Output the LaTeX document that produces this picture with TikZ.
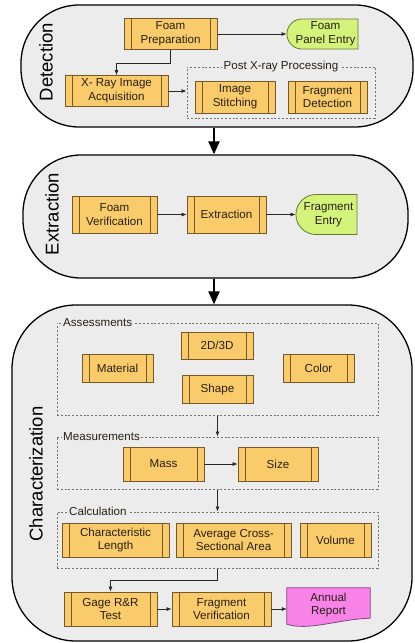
\documentclass[tikz,border=0pt]{standalone}
\usepackage{fontspec}
\setmainfont{Liberation Sans}
\usepackage{tikz}
\usetikzlibrary{arrows.meta}
\usetikzlibrary{shapes.misc}
\usetikzlibrary{positioning}

\definecolor{panelfill}{RGB}{236,236,236}
\definecolor{boxfill}{RGB}{250,203,106}
\definecolor{boxline}{RGB}{118,88,40}
\definecolor{boxtext}{RGB}{40,32,22}
\definecolor{entryfill}{RGB}{212,243,122}
\definecolor{entryline}{RGB}{104,120,52}
\definecolor{docfill}{RGB}{248,130,232}
\definecolor{docline}{RGB}{128,72,118}
\definecolor{groupline}{RGB}{115,115,115}
\definecolor{flowline}{RGB}{40,40,40}

\newcommand{\boxfontsize}{\fontsize{11.6}{13.8}\selectfont}
\newcommand{\panelfontsize}{\fontsize{18.5}{20}\selectfont}
\newcommand{\processnode}[1][]{\node[process,#1]}
\newcommand{\entrynode}[1][]{\node[entry,#1]}
\newcommand{\groupnode}[1][]{\node[group,#1]}

\tikzstyle{panel}=[
    draw,
    rectangle,
    fill=panelfill,
    line width=1.3pt,
    inner sep=0pt
]
\tikzstyle{paneltitle}=[
    rotate=90,
    inner sep=0pt,
    font=\panelfontsize
]
\tikzstyle{group}=[
    draw=groupline,
    rectangle,
    dash pattern=on 2pt off 1.8pt,
    line width=1pt,
    inner sep=0pt
]
\tikzstyle{grouplabel}=[
    fill=panelfill,
    inner sep=1.5pt,
    text=boxtext,
    font=\boxfontsize
]
\tikzstyle{process}=[
    draw=boxline,
    fill=boxfill,
    rectangle,
    line width=0.8pt,
    inner sep=1pt,
    align=center,
    text=boxtext,
    font=\boxfontsize,
    path picture={
        \draw[boxline,line width=0.8pt]
            ([xshift=7pt]path picture bounding box.north west) --
            ([xshift=7pt]path picture bounding box.south west)
            ([xshift=-7pt]path picture bounding box.north east) --
            ([xshift=-7pt]path picture bounding box.south east);
    }
]
\tikzstyle{entry}=[
    rounded rectangle,
    rounded rectangle right arc=none,
    draw=entryline,
    fill=entryfill,
    line width=0.8pt,
    inner sep=1pt,
    align=center,
    text=boxtext,
    font=\boxfontsize
]
\tikzstyle{doclabel}=[
    inner sep=1pt,
    align=center,
    text=boxtext,
    font=\boxfontsize
]
\tikzstyle{flow}=[
    -{Latex[length=5pt,width=4pt]},
    line width=0.7pt,
    draw=flowline
]
\tikzstyle{stage}=[
    -{Triangle[length=13pt,width=11pt]},
    line width=2.2pt
]

\begin{document}
\begin{tikzpicture}[x=1pt,y=1pt]

    \useasboundingbox (0,0) rectangle (415,-643);

    % panels
    \node[panel,rounded corners=58pt,minimum width=392pt,minimum height=122pt] (detect) at (217,-66) {};
    \node[panel,rounded corners=58pt,minimum width=385pt,minimum height=123pt] (extract) at (215.5,-216.5) {};
    \node[panel,rounded corners=64pt,minimum width=400pt,minimum height=336pt] (charact) at (212,-473) {};

    \node[paneltitle] (detecttitle) at (46,-62) {Detection};
    \node[paneltitle] (extracttitle) at (52,-214) {Extraction};
    \node[paneltitle] (characttitle) at (36,-474) {Characterization};

    % detection
    \processnode[minimum width=93pt,minimum height=31pt] (fprep) at (170.5,-34) {Foam\\Preparation};
    \entrynode[minimum width=73pt,minimum height=30pt] (fpanel) at (325.5,-34) {Foam\\Panel Entry};
    \processnode[minimum width=103pt,minimum height=31pt] (xray) at (116.5,-91) {X- Ray Image\\Acquisition};
    \groupnode[minimum width=188pt,minimum height=51pt] (postxray) at (281,-92.5) {};
    \node[grouplabel] (postxraylabel) at (postxray.north) {Post X-ray Processing};
    \processnode[minimum width=80pt,minimum height=32pt] (stitch) at (235,-97) {Image\\Stitching};
    \processnode[minimum width=79pt,minimum height=32pt] (fdetect) at (327.5,-97) {Fragment\\Detection};

    % extraction
    \processnode[minimum width=85pt,minimum height=37pt] (fverify) at (114.5,-214.5) {Foam\\Verification};
    \processnode[minimum width=79pt,minimum height=37pt] (extraction) at (226.5,-214.5) {Extraction};
    \entrynode[minimum width=63pt,minimum height=40pt] (fentry) at (328.5,-214.5) {Fragment\\Entry};

    % characterization
    \groupnode[minimum width=321pt,minimum height=92pt] (assess) at (217.5,-369) {};
    \node[grouplabel,anchor=west] (assesslabel) at ([xshift=5pt]assess.north west) {Assessments};
    \processnode[minimum width=71pt,minimum height=28pt] (material) at (117.5,-368) {Material};
    \processnode[minimum width=72pt,minimum height=27pt] (dim) at (217,-345.5) {2D/3D};
    \processnode[minimum width=71pt,minimum height=28pt] (shape) at (217.5,-389) {Shape};
    \processnode[minimum width=71pt,minimum height=28pt] (color) at (318.5,-368) {Color};

    \groupnode[minimum width=321pt,minimum height=52pt] (meas) at (217.5,-463) {};
    \node[grouplabel,anchor=west] (measlabel) at ([xshift=5pt]meas.north west) {Measurements};
    \processnode[minimum width=81pt,minimum height=34pt] (mass) at (163.5,-464) {Mass};
    \processnode[minimum width=80pt,minimum height=34pt] (size) at (278,-464) {Size};

    \groupnode[minimum width=321pt,minimum height=56pt] (calc) at (217.5,-540) {};
    \node[grouplabel,anchor=west] (calclabel) at ([xshift=11pt]calc.north west) {Calculation};
    \processnode[minimum width=107pt,minimum height=34pt] (charlen) at (115.5,-540) {Characteristic\\Length};
    \processnode[minimum width=115pt,minimum height=34pt] (avgarea) at (233.5,-540) {Average Cross-\\Sectional Area};
    \processnode[minimum width=71pt,minimum height=34pt] (volume) at (335.5,-540) {Volume};

    \processnode[minimum width=93pt,minimum height=34pt] (gage) at (110.5,-609) {Gage R\&R\\Test};
    \processnode[minimum width=99pt,minimum height=34pt] (fragver) at (221.5,-609) {Fragment\\Verification};
    \node[minimum width=83pt,minimum height=34pt,inner sep=0pt] (report) at (328.5,-605) {};
    \filldraw[fill=docfill,draw=docline,line width=0.8pt]
        (report.north west) -- (report.north east) -- ([yshift=4pt]report.south east)
        .. controls +(-32pt,-1pt) and +(22pt,-7pt) .. ([yshift=-2pt]report.south west) -- cycle;
    \node[doclabel] (reportlabel) at (report) {Annual\\Report};

    % edges
    \draw[flow] (fprep) -- (fpanel);
    \draw[flow] (fprep.south) -- ++(0,-13) -| (xray.north);
    \draw[flow] (xray) -- (postxray.west |- xray);
    \draw[flow] (fverify) -- (extraction);
    \draw[flow] (extraction) -- (fentry);
    \draw[flow] (assess.south) -- (meas.north);
    \draw[flow] (mass) -- (size);
    \draw[flow] (meas.south) -- (calc.north);
    \draw[flow] (calc.south) -- ++(0,-12) -| (gage.north);
    \draw[flow] (gage) -- (fragver);
    \draw[flow] (fragver) -- (report.west |- fragver);

    \draw[stage] ([xshift=-3pt]detect.south) -- ([xshift=-3pt]detect.south |- extract.north);
    \draw[stage] ([xshift=-1.5pt]extract.south) -- ([xshift=-1.5pt]extract.south |- charact.north);
\end{tikzpicture}
\end{document}
